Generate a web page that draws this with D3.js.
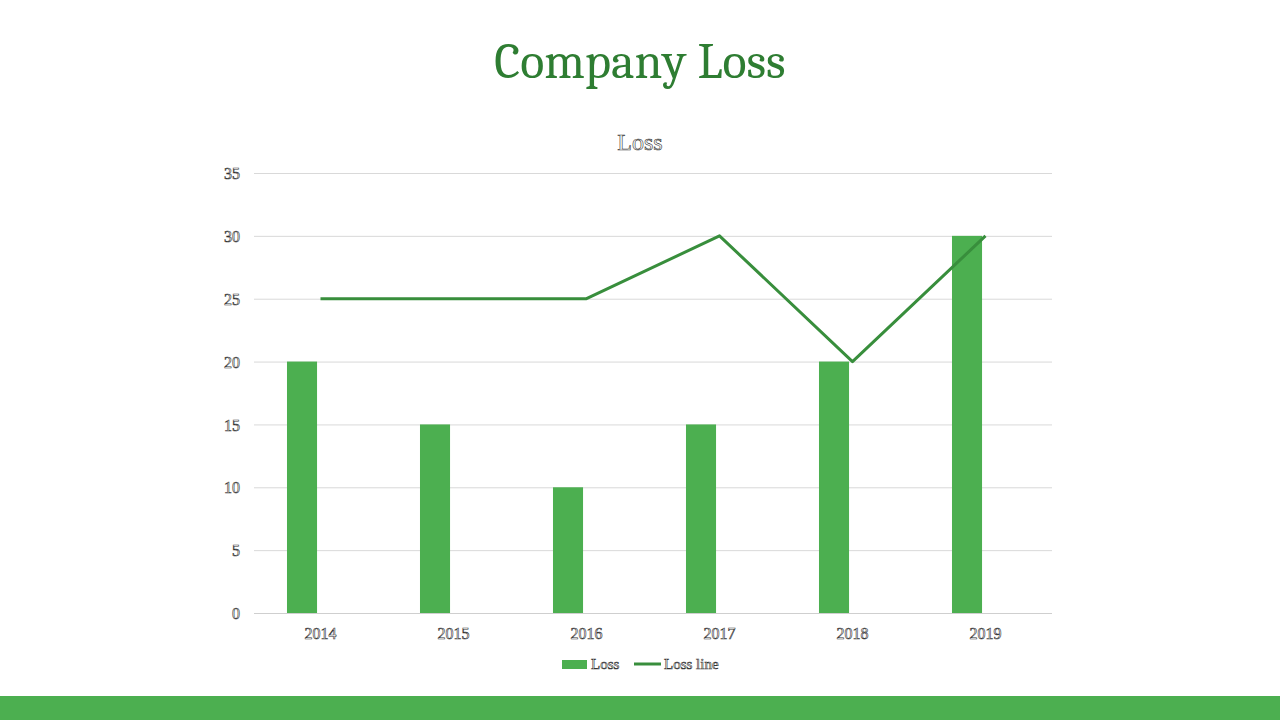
<!DOCTYPE html>
<html>
<head>
<meta charset="utf-8">
<script src="https://cdn.jsdelivr.net/npm/d3@7"></script>
<style>
  body { margin: 0; background: #fff; }
  svg { display: block; }
  .hollow { fill: #fff; stroke: #333; stroke-width: 0.6px; font-family: "Liberation Serif", serif; }
</style>
</head>
<body>
<div id="chart"></div>
<script>
// data
const years = ["2014", "2015", "2016", "2017", "2018", "2019"]
const lossBars = [20, 15, 10, 15, 20, 30]
const lossLine = [25, 25, 25, 30, 20, 30]
const yTicks = [0, 5, 10, 15, 20, 25, 30, 35]

const W = 1280, H = 720
const margin = { top: 173, right: 228, bottom: 107, left: 254 }

const svg = d3.select('#chart').append('svg')
    .attr('width', W)
    .attr('height', H)

// slide title
svg.append('text')
    .attr('x', 640).attr('y', 78)
    .attr('text-anchor', 'middle')
    .attr('font-family', 'Cambria, "Liberation Serif", serif')
    .attr('font-size', 50)
    .attr('fill', '#2e7d32')
    .text('Company Loss')

// bottom band
svg.append('rect')
    .attr('x', 0).attr('y', 696)
    .attr('width', W).attr('height', 24)
    .attr('fill', '#4caf50')

const x = d3.scaleBand()
    .domain(years)
    .range([margin.left, W - margin.right])

const y = d3.scaleLinear()
    .domain([0, 35])
    .range([H - margin.bottom, margin.top])

// chart title
svg.append('text')
    .attr('class', 'hollow')
    .attr('x', 640).attr('y', 150)
    .attr('text-anchor', 'middle')
    .attr('font-size', 24)
    .text('Loss')

// gridlines
svg.append('g')
    .selectAll('line')
    .data(yTicks)
    .join('line')
    .attr('x1', margin.left).attr('x2', W - margin.right)
    .attr('y1', d => y(d) + 0.5).attr('y2', d => y(d) + 0.5)
    .attr('stroke', d => d === 0 ? '#cfcfcf' : '#d9d9d9')
    .attr('stroke-width', 1)

// y axis labels
const yAxis = svg.append('g')
    .attr('transform', `translate(${margin.left - 14},0)`)
    .call(d3.axisLeft(y).tickValues(yTicks).tickSize(0).tickPadding(0))
yAxis.select('.domain').remove()
yAxis.selectAll('text')
    .attr('class', 'hollow')
    .attr('font-size', 16)
    .attr('dy', '0.35em')

// x axis labels
const xAxis = svg.append('g')
    .attr('transform', `translate(0,${y(0)})`)
    .call(d3.axisBottom(x).tickSize(0).tickPadding(15))
xAxis.select('.domain').remove()
xAxis.selectAll('text')
    .attr('class', 'hollow')
    .attr('font-size', 16)

// bars sit in the left half of each category
const bw = x.bandwidth()
svg.append('g')
    .selectAll('rect')
    .data(lossBars)
    .join('rect')
    .attr('x', (d, i) => x(years[i]) + bw * 0.248)
    .attr('width', bw * 0.226)
    .attr('y', d => y(d))
    .attr('height', d => y(0) - y(d))
    .attr('fill', '#4caf50')

// line
const line = d3.line()
    .x((d, i) => x(years[i]) + bw / 2)
    .y(d => y(d))

svg.append('path')
    .datum(lossLine)
    .attr('d', line)
    .attr('fill', 'none')
    .attr('stroke', '#388e3c')
    .attr('stroke-width', 3)
    .attr('stroke-linejoin', 'round')

// legend
const legend = svg.append('g').attr('transform', 'translate(562,664)')
legend.append('rect')
    .attr('x', 0).attr('y', -4)
    .attr('width', 25).attr('height', 9)
    .attr('fill', '#4caf50')
legend.append('text')
    .attr('class', 'hollow')
    .attr('x', 29).attr('y', 5)
    .attr('font-size', 15)
    .text('Loss')
legend.append('line')
    .attr('x1', 72).attr('x2', 99)
    .attr('y1', 0).attr('y2', 0)
    .attr('stroke', '#388e3c')
    .attr('stroke-width', 3)
legend.append('text')
    .attr('class', 'hollow')
    .attr('x', 102).attr('y', 5)
    .attr('font-size', 15)
    .text('Loss line')
</script>
</body>
</html>
